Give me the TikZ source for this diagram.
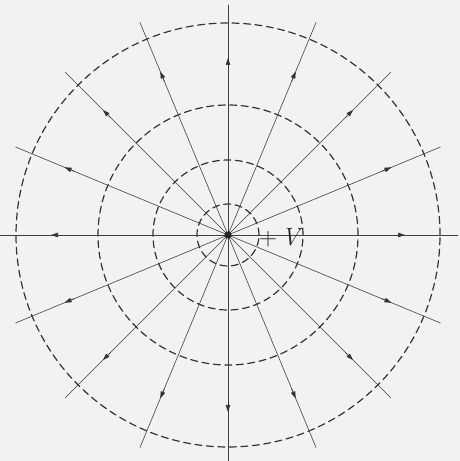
\documentclass[tikz,border=0pt]{standalone}
\usetikzlibrary{arrows.meta}

\begin{document}
\begin{tikzpicture}[x=1pt,y=1pt,line cap=round,line join=round]
  \fill[black!5] (0,0) rectangle (460,461);
  \useasboundingbox (0,0) rectangle (460,461);
  \coordinate (O) at (228,226);
  % ekvipotenciális körök
  \foreach \r in {31,75,130,212}
    \draw[line width=1.2pt,black!80,dash pattern=on 7pt off 4.5pt] (O) circle (\r);
  % erővonalak, kifelé mutató nyilakkal
  \foreach \a in {0,22.5,...,337.5} {
    \draw[line width=0.6pt,black!75] (O) -- ([shift={(\a:230)}]O);
    \draw[line width=0.6pt,black!80,-{Triangle[length=7pt,width=4.5pt]}]
      ([shift={(\a:166)}]O) -- ([shift={(\a:177)}]O);
  }
  \fill[black!85] (O) circle (3.5);
  \node[anchor=base west,inner sep=0pt,text=black!85,font=\fontsize{25}{30}\selectfont] (label) at (259,215) {+\,\textit{V}};
\end{tikzpicture}
\end{document}
